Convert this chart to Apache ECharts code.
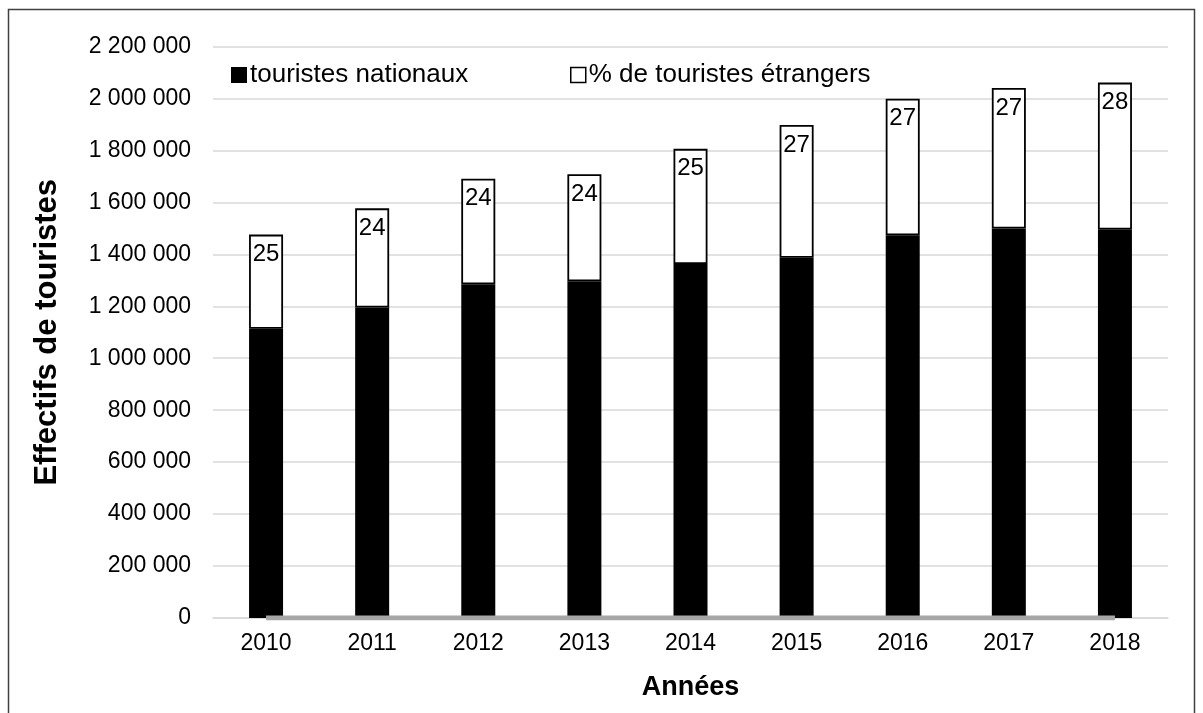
<!DOCTYPE html>
<html>
<head>
<meta charset="utf-8">
<script src="https://cdn.jsdelivr.net/npm/echarts@6/dist/echarts.min.js"></script>
<style>
  html, body { margin: 0; padding: 0; background: #fff; }
  #chart { width: 1203px; height: 713px; }
</style>
</head>
<body>
<div id="chart"></div>
<script>
const years = ['2010', '2011', '2012', '2013', '2014', '2015', '2016', '2017', '2018'];
const nationaux = [1113000, 1195000, 1285000, 1296000, 1363000, 1387000, 1473000, 1499000, 1495000];
const etrangers = [363000, 382000, 406000, 412000, 443000, 511000, 526000, 541000, 566000];
const pctEtrangers = [25, 24, 24, 24, 25, 27, 27, 27, 28];
const baseLine = [0, 0, 0, 0, 0, 0, 0, 0, 0];
const yMin = 0, yMax = 2200000, yStep = 200000;

const FONT = "'Liberation Sans', Arial, sans-serif";
const chart = echarts.init(document.getElementById('chart'), null, { renderer: 'canvas' });

function fmt(v) {
  return String(v).replace(/\B(?=(\d{3})+(?!\d))/g, ' ');
}

chart.setOption({
  animation: false,
  backgroundColor: '#fff',
  textStyle: { fontFamily: FONT, color: '#000' },
  graphic: [{
    type: 'rect',
    shape: { x: 8.5, y: 9.5, width: 1186, height: 720 },
    style: { fill: 'none', stroke: '#404040', lineWidth: 1.5 },
    silent: true, z: -1
  }],
  grid: { left: 213, right: 35, top: 46.5, bottom: 95, containLabel: false },
  legend: [{
    data: [{ name: 'touristes nationaux', icon: 'rect' }],
    left: 226, top: 57,
    itemWidth: 16, itemHeight: 16, itemGap: 3,
    textStyle: { fontSize: 26, fontFamily: FONT, color: '#000', padding: [0, 0, 0, -2] }
  }, {
    data: [{ name: '% de touristes étrangers', icon: 'rect' }],
    left: 565, top: 57,
    itemWidth: 15, itemHeight: 15,
    itemStyle: { borderColor: '#000', borderWidth: 1.5 },
    textStyle: { fontSize: 26, fontFamily: FONT, color: '#000', padding: [0, 0, 0, -2] }
  }],
  xAxis: {
    type: 'category',
    data: years,
    name: 'Années',
    nameLocation: 'middle',
    nameGap: 56,
    nameTextStyle: { fontSize: 27, fontWeight: 'bold', fontFamily: FONT, color: '#000' },
    axisLine: { show: true, lineStyle: { color: '#d9d9d9', width: 1.5 } },
    axisTick: { show: false },
    axisLabel: { fontSize: 23, margin: 14, color: '#000', fontFamily: FONT }
  },
  yAxis: {
    type: 'value',
    min: yMin, max: yMax, interval: yStep,
    name: 'Effectifs de touristes',
    nameLocation: 'middle',
    nameGap: 150,
    nameTextStyle: { fontSize: 31, fontWeight: 'bold', fontFamily: FONT, color: '#000', padding: [0, 0, 0, 0] },
    axisLine: { show: false },
    axisTick: { show: false },
    axisLabel: { fontSize: 23, margin: 22, color: '#000', fontFamily: FONT, formatter: fmt },
    splitLine: { lineStyle: { color: '#d9d9d9', width: 1.5 } }
  },
  series: [{
    name: 'touristes nationaux',
    type: 'bar',
    stack: 'total',
    data: nationaux,
    barWidth: 34,
    itemStyle: { color: '#000' }
  }, {
    name: '% de touristes étrangers',
    type: 'bar',
    stack: 'total',
    data: etrangers,
    barWidth: 34,
    itemStyle: { color: '#fff', borderColor: '#000', borderWidth: 1.8 },
    label: {
      show: true,
      position: 'insideTop',
      distance: 8,
      fontSize: 24,
      fontFamily: FONT,
      color: '#000',
      formatter: p => String(pctEtrangers[p.dataIndex])
    }
  }, {
    name: 'base',
    type: 'line',
    data: baseLine,
    symbol: 'none',
    z: 5,
    lineStyle: { color: '#a6a6a6', width: 5 },
    silent: true
  }]
});
</script>
</body>
</html>
